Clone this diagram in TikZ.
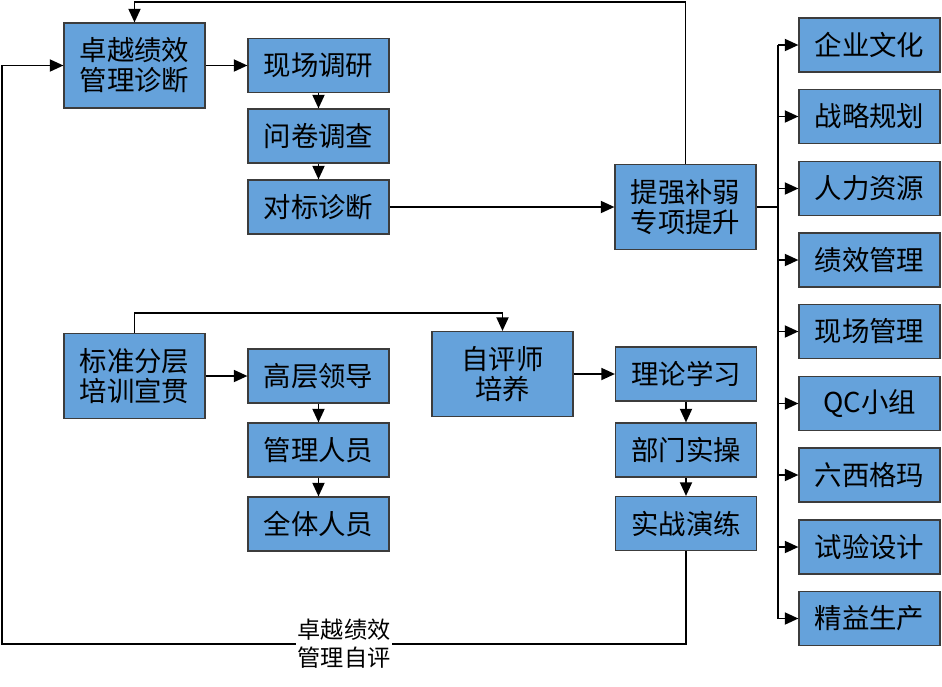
\documentclass[tikz,border=0pt]{standalone}
\usepackage{fontspec}
\setmainfont{Noto Sans CJK SC}
\usetikzlibrary{arrows.meta,positioning,calc}
\definecolor{ink}{HTML}{000000}
\definecolor{boxfill}{HTML}{65A2DB}
\definecolor{boxline}{HTML}{3C3C3C}

\begin{document}
\begin{tikzpicture}[x=0.025cm,y=-0.025cm,
  base/.style={draw=boxline,line width=0.8pt,fill=boxfill,text=ink,align=center,inner sep=0pt,
               font=\fontsize{19.5}{21.5}\selectfont,minimum width=3.525cm},
  tall/.style={base,minimum height=2.125cm},
  flat/.style={base,minimum height=1.35cm},
  flowline/.style={line width=1.3pt,ink},
  flowarrow/.style={flowline,-{Triangle[length=3.4mm,width=3mm]}}]
  \useasboundingbox (0,0) rectangle (942,686);
  % diagnosis branch
  \node[tall] (diag) at (134.5,65.5) {卓越绩效\\管理诊断};
  \node[flat] (xc) at (318.5,65.5) {现场调研};
  \node[flat] (wj) at (318.5,136) {问卷调查};
  \node[flat] (db) at (318.5,207) {对标诊断};
  \node[tall] (tq) at (685.5,207) {提强补弱\\专项提升};
  % training branch
  \node[tall] (bz) at (134.5,376) {标准分层\\培训宣贯};
  \node[flat] (gc) at (318.5,376) {高层领导};
  \node[flat] (gl) at (318.5,450) {管理人员};
  \node[flat] (qt) at (318.5,524) {全体人员};
  \node[tall] (zp) at (502.5,374) {自评师\\培养};
  \node[flat] (ll) at (686,374) {理论学习};
  \node[flat] (bm) at (686,450) {部门实操};
  \node[flat] (sz) at (686,523.5) {实战演练};
  % improvement topics
  \foreach \name/\txt/\yy in {r1/企业文化/45,r2/战略规划/116.5,r3/人力资源/188.5,
      r4/绩效管理/260,r5/现场管理/331.5,r6/QC小组/403.5,r7/六西格玛/475,
      r8/试验设计/547,r9/精益生产/618.5}
    \node[flat] (\name) at (869.5,\yy) {\txt};
  \coordinate (trunk) at (778,207);
  \coordinate (topy) at (0,2);
  \coordinate (midy) at (0,313);
  \coordinate (boty) at (0,644);
  \coordinate (leftx) at (2,0);

  \draw[flowarrow] (diag) -- (xc);
  \draw[flowarrow] (xc) -- (wj);
  \draw[flowarrow] (wj) -- (db);
  \draw[flowarrow] (db) -- (tq);
  \draw[flowline] (tq.east) -- (trunk);
  \draw[flowline] (trunk |- r1) -- (trunk |- r9);
  \foreach \name in {r1,r2,r3,r4,r5,r6,r7,r8,r9}
    \draw[flowarrow] (trunk |- \name) -- (\name.west);
  \draw[flowarrow] (tq.north) -- (tq.north |- topy) -| (diag.north);

  \draw[flowarrow] (bz) -- (gc);
  \draw[flowarrow] (gc) -- (gl);
  \draw[flowarrow] (gl) -- (qt);
  \draw[flowarrow] (bz.north) -- (bz.north |- midy) -| (zp.north);
  \draw[flowarrow] (zp) -- (ll);
  \draw[flowarrow] (ll) -- (bm);
  \draw[flowarrow] (bm) -- (sz);
  \draw[flowarrow] (sz.south) -- (sz.south |- boty)
    -- node[fill=white,inner sep=1pt,align=center,font=\fontsize{16.5}{20}\selectfont] (selfeval) {卓越绩效\\管理自评}
    (leftx |- boty) |- (diag.west);
\end{tikzpicture}
\end{document}
